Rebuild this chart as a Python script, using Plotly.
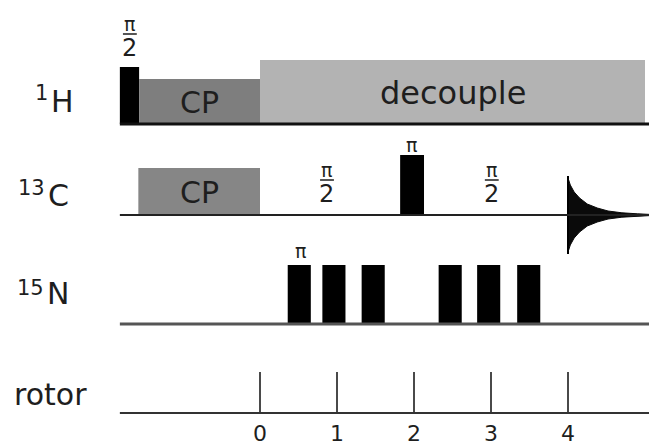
import plotly.graph_objects as go

# ---------------- data ----------------
rotor_ticks = [0, 1, 2, 3, 4]
rotor_tick_labels = ["0", "1", "2", "3", "4"]

channel_names = ["H", "C", "N", "rotor"]
channel_isotopes = ["1", "13", "15", ""]
channel_baselines = [124, 215, 324, 413]

line_start = -1.82
line_end = 5.06

# 1H channel blocks: (start, end, top, colour, label)
h_block_start = [-1.82, -1.57, 0.0]
h_block_end = [-1.57, 0.0, 5.0]
h_block_top = [67, 79, 60]
h_block_color = ["#000000", "#7e7e7e", "#b3b3b3"]
h_block_label = ["", "CP", "decouple"]

# 13C channel blocks
c_block_start = [-1.58, 1.82]
c_block_end = [0.0, 2.13]
c_block_top = [168, 155]
c_block_color = ["#868686", "#000000"]
c_block_label = ["CP", ""]

# 15N pi pulses
n_pulse_start = [0.36, 0.81, 1.32, 2.32, 2.82, 3.34]
n_pulse_width = 0.30
n_pulse_top = 265

# rotor tick top
rotor_tick_top = 372

# FID envelope (time in rotor periods, half amplitude)
fid_t = [4.0, 4.03, 4.08, 4.15, 4.25, 4.38, 4.52, 4.7, 4.9, 5.06]
fid_amp = [37, 30, 23, 17, 11, 7, 4, 2.2, 1.2, 0.6]

# pulse flip-angle labels: (t, y-centre, kind)
flip_t = [-1.69, 0.87, 3.01, 1.97, 0.52]
flip_y = [36, 182, 182, 145, 251]
flip_kind = ["half", "half", "half", "pi", "pi"]

# ---------------- figure ----------------
W, H = 649, 445
x0_px = 260.0
px_per_period = 77.0
xr = [-x0_px / px_per_period, (W - x0_px) / px_per_period]

fig = go.Figure()
shapes = []
annotations = []
FONT = "DejaVu Sans, Liberation Sans, Arial, sans-serif"
TXT = "#1e1e1e"

def px2t(p):
    return (p - x0_px) / px_per_period

def rect(x0, x1, y0, y1, color):
    shapes.append(dict(type="rect", xref="x", yref="y", x0=x0, x1=x1, y0=y0, y1=y1,
                       fillcolor=color, line=dict(width=0), layer="above"))

def text(x, y, s, size, xanchor="center", yanchor="middle", family=FONT):
    annotations.append(dict(x=x, y=y, xref="x", yref="y", text=s, showarrow=False,
                            xanchor=xanchor, yanchor=yanchor, borderpad=0,
                            font=dict(size=size, color=TXT, family=family)))

# 1H
bh = channel_baselines[0]
for s, e, t, col, lab in zip(h_block_start, h_block_end, h_block_top, h_block_color, h_block_label):
    rect(s, e, t, bh, col)
    if lab:
        text((s + e) / 2, (t + bh) / 2 + 1, lab, 30 if lab == "CP" else 32)

# 13C
bc = channel_baselines[1]
for s, e, t, col, lab in zip(c_block_start, c_block_end, c_block_top, c_block_color, c_block_label):
    rect(s, e, t, bc, col)
    if lab:
        text((s + e) / 2, (t + bc) / 2 + 1, lab, 30)

# 15N
bn = channel_baselines[2]
for s in n_pulse_start:
    rect(s, s + n_pulse_width, n_pulse_top, bn, "#000000")

# rotor ticks
br = channel_baselines[3]
for tk in rotor_ticks:
    shapes.append(dict(type="line", xref="x", yref="y", x0=tk, x1=tk, y0=rotor_tick_top, y1=br,
                       line=dict(color="#4a4a4a", width=2), layer="above"))
for tk, lab in zip(rotor_ticks, rotor_tick_labels):
    text(tk, 433, lab, 22)

# baselines
base_w = [3, 2, 3, 2]
base_c = ["#111111", "#222222", "#555555", "#333333"]
for b, w, c in zip(channel_baselines, base_w, base_c):
    shapes.append(dict(type="line", xref="x", yref="y", x0=line_start, x1=line_end, y0=b, y1=b,
                       line=dict(color=c, width=w), layer="above"))

# FID as a filled envelope
fx = fid_t + fid_t[::-1]
fy = [bc - a for a in fid_amp] + [bc + a for a in fid_amp[::-1]]
fig.add_trace(go.Scatter(x=fx, y=fy, mode="lines", fill="toself", fillcolor="#0a0a0a",
                         line=dict(color="#0a0a0a", width=1), hoverinfo="skip", showlegend=False))
fig.add_trace(go.Scatter(x=[fid_t[0], fid_t[0]], y=[bc - fid_amp[0] - 2, bc + fid_amp[0] + 2],
                         mode="lines", line=dict(color="#000", width=2),
                         hoverinfo="skip", showlegend=False))

# flip-angle labels
for t, y, k in zip(flip_t, flip_y, flip_kind):
    if k == "half":
        text(t, y - 12, "π", 19)
        shapes.append(dict(type="line", xref="x", yref="y", x0=t - 0.09, x1=t + 0.09, y0=y - 2, y1=y - 2,
                           line=dict(color=TXT, width=1.5)))
        text(t, y + 12, "2", 24)
    else:
        text(t, y, "π", 19)

# channel labels (pixel anchor positions)
iso_right_px = [49, 46, 45, 0]
iso_y_px = [93, 188, 288, 0]
main_left_px = [49.5, 46.5, 45.5, 50]
main_y_px = [101, 195, 293, 394]
for name, iso, ir, iy, ml, my in zip(channel_names, channel_isotopes, iso_right_px, iso_y_px,
                                     main_left_px, main_y_px):
    if iso:
        text(px2t(ml), my, name, 30, xanchor="left")
        text(px2t(ir), iy, iso, 21, xanchor="right")
    else:
        text(px2t(ml), my, name, 30)

fig.update_layout(
    width=W, height=H,
    margin=dict(l=0, r=0, t=0, b=0),
    paper_bgcolor="white", plot_bgcolor="white",
    xaxis=dict(range=xr, visible=False, fixedrange=True),
    yaxis=dict(range=[H, 0], visible=False, fixedrange=True),
    shapes=shapes, annotations=annotations, showlegend=False,
)

fig.write_html("out.html")
